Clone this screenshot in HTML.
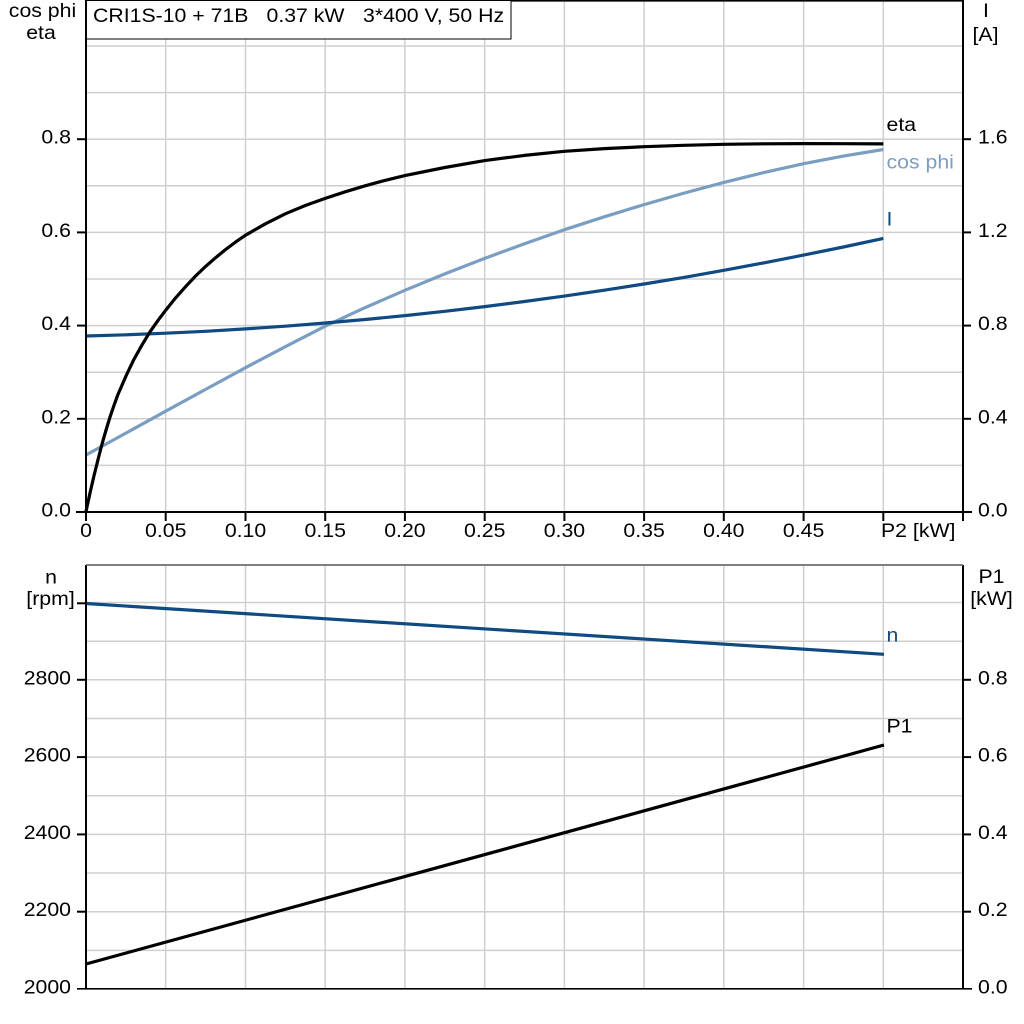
<!DOCTYPE html>
<html>
<head>
<meta charset="utf-8">
<style>
  html,body{margin:0;padding:0;background:#fff;}
  svg{display:block;}
  text{font-family:"Liberation Sans",Arial,sans-serif;font-size:19px;fill:#000;}
</style>
</head>
<body>
<svg width="1024" height="1024" viewBox="0 0 1024 1024" xmlns="http://www.w3.org/2000/svg">
  <rect x="0" y="0" width="1024" height="1024" fill="#fff"/>

  <!-- ============ TOP CHART ============ -->
  <g stroke="#cfcfcf" stroke-width="1.5" fill="none">
    <line x1="165.7" y1="0" x2="165.7" y2="512"/>
    <line x1="245.5" y1="0" x2="245.5" y2="512"/>
    <line x1="325.2" y1="0" x2="325.2" y2="512"/>
    <line x1="404.9" y1="0" x2="404.9" y2="512"/>
    <line x1="484.7" y1="0" x2="484.7" y2="512"/>
    <line x1="564.4" y1="0" x2="564.4" y2="512"/>
    <line x1="644.1" y1="0" x2="644.1" y2="512"/>
    <line x1="723.8" y1="0" x2="723.8" y2="512"/>
    <line x1="803.6" y1="0" x2="803.6" y2="512"/>
    <line x1="883.3" y1="0" x2="883.3" y2="512"/>
    <line x1="86" y1="465.4" x2="963" y2="465.4"/>
    <line x1="86" y1="418.8" x2="963" y2="418.8"/>
    <line x1="86" y1="372.2" x2="963" y2="372.2"/>
    <line x1="86" y1="325.6" x2="963" y2="325.6"/>
    <line x1="86" y1="279" x2="963" y2="279"/>
    <line x1="86" y1="232.4" x2="963" y2="232.4"/>
    <line x1="86" y1="185.8" x2="963" y2="185.8"/>
    <line x1="86" y1="139.2" x2="963" y2="139.2"/>
    <line x1="86" y1="92.6" x2="963" y2="92.6"/>
    <line x1="86" y1="46" x2="963" y2="46"/>
  </g>

  <!-- curves top -->
  <g fill="none" stroke-width="3.2" stroke-linejoin="round" stroke-linecap="butt">
    <polyline stroke="#7a9ec1" points="86,455 125.9,433.1 165.7,411.2 205.6,389.4 245.5,367.7 285.3,346.7 325.2,326.2 365.1,307.6 404.9,290.3 444.8,273.9 484.7,258.4 524.5,243.7 564.4,229.7 604.3,216.8 644.1,204.6 684,193.1 723.8,182.4 763.7,172.6 803.6,163.7 843.4,156.1 883.3,149.5"/>
    <polyline stroke="#0f4a82" points="86,336 125.9,334.8 165.7,333.2 205.6,331.3 245.5,328.9 285.3,326.2 325.2,323 365.1,319.5 404.9,315.6 444.8,311.3 484.7,306.6 524.5,301.5 564.4,296.1 604.3,290.2 644.1,284 684,277.4 723.8,270.3 763.7,262.9 803.6,255.1 843.4,247 883.3,238.4"/>
    <polyline stroke="#000" points="86,511.5 90,493 94,475.7 98,459.6 101.9,444.4 105.9,430.5 109.9,417.4 113.9,405.6 117.9,394.6 125.9,376.2 133.8,359.6 141.8,345.3 149.8,332.1 157.8,320.7 165.7,310.2 175.7,297.8 185.7,286.5 195.6,276 205.6,266.4 215.6,257.7 225.5,249.6 235.5,242.1 245.5,235.2 265.4,223.8 285.3,213.8 305.3,205.5 325.2,198.4 345.2,191.8 365.1,185.8 385,180.4 404.9,175.6 444.8,167.5 484.7,160.6 524.5,155.4 564.4,151.3 604.3,148.6 644.1,146.7 684,145.3 723.8,144.3 763.7,143.8 803.6,143.6 843.4,143.7 883.3,143.9"/>
  </g>

  <!-- axes top -->
  <g stroke="#000" stroke-width="2" fill="none">
    <line x1="86" y1="0" x2="86" y2="513"/>
    <line x1="963" y1="0" x2="963" y2="521"/>
    <line x1="76" y1="512" x2="972" y2="512"/>
    <line x1="86" y1="0.8" x2="963" y2="0.8" stroke-width="1.6"/>
    <line x1="77" y1="418.8" x2="86" y2="418.8"/>
    <line x1="77" y1="325.6" x2="86" y2="325.6"/>
    <line x1="77" y1="232.4" x2="86" y2="232.4"/>
    <line x1="77" y1="139.2" x2="86" y2="139.2"/>
    <line x1="963" y1="418.8" x2="971" y2="418.8"/>
    <line x1="963" y1="325.6" x2="971" y2="325.6"/>
    <line x1="963" y1="232.4" x2="971" y2="232.4"/>
    <line x1="963" y1="139.2" x2="971" y2="139.2"/>
    <line x1="86" y1="512" x2="86" y2="521"/>
    <line x1="165.7" y1="512" x2="165.7" y2="521"/>
    <line x1="245.5" y1="512" x2="245.5" y2="521"/>
    <line x1="325.2" y1="512" x2="325.2" y2="521"/>
    <line x1="404.9" y1="512" x2="404.9" y2="521"/>
    <line x1="484.7" y1="512" x2="484.7" y2="521"/>
    <line x1="564.4" y1="512" x2="564.4" y2="521"/>
    <line x1="644.1" y1="512" x2="644.1" y2="521"/>
    <line x1="723.8" y1="512" x2="723.8" y2="521"/>
    <line x1="803.6" y1="512" x2="803.6" y2="521"/>
    <line x1="883.3" y1="512" x2="883.3" y2="521"/>
  </g>

  <!-- title box -->
  <rect x="86.5" y="0.5" width="424.5" height="38.5" fill="#fff" stroke="#000" stroke-width="1"/>
  <text transform="translate(93 22) scale(1.12 1)">CRI1S-10 + 71B</text>
  <text transform="translate(266.5 22) scale(1.12 1)">0.37 kW</text>
  <text transform="translate(363 22) scale(1.12 1)">3*400 V, 50 Hz</text>

  <g text-anchor="end">
    <text transform="translate(71 516.5) scale(1.12 1)">0.0</text>
    <text transform="translate(71 423.3) scale(1.12 1)">0.2</text>
    <text transform="translate(71 330.1) scale(1.12 1)">0.4</text>
    <text transform="translate(71 236.9) scale(1.12 1)">0.6</text>
    <text transform="translate(71 143.7) scale(1.12 1)">0.8</text>
  </g>
  <g text-anchor="start">
    <text transform="translate(978 516.5) scale(1.12 1)">0.0</text>
    <text transform="translate(978 423.3) scale(1.12 1)">0.4</text>
    <text transform="translate(978 330.1) scale(1.12 1)">0.8</text>
    <text transform="translate(978 236.9) scale(1.12 1)">1.2</text>
    <text transform="translate(978 143.7) scale(1.12 1)">1.6</text>
  </g>
  <g text-anchor="middle">
    <text transform="translate(86 537) scale(1.12 1)">0</text>
    <text transform="translate(165.7 537) scale(1.12 1)">0.05</text>
    <text transform="translate(245.5 537) scale(1.12 1)">0.10</text>
    <text transform="translate(325.2 537) scale(1.12 1)">0.15</text>
    <text transform="translate(404.9 537) scale(1.12 1)">0.20</text>
    <text transform="translate(484.7 537) scale(1.12 1)">0.25</text>
    <text transform="translate(564.4 537) scale(1.12 1)">0.30</text>
    <text transform="translate(644.1 537) scale(1.12 1)">0.35</text>
    <text transform="translate(723.8 537) scale(1.12 1)">0.40</text>
    <text transform="translate(803.6 537) scale(1.12 1)">0.45</text>
    <text transform="translate(42.5 17) scale(1.12 1)">cos phi</text>
    <text transform="translate(41 39) scale(1.12 1)">eta</text>
    <text transform="translate(986 17) scale(1.12 1)">I</text>
    <text transform="translate(985.5 41) scale(1.12 1)">[A]</text>
  </g>
  <text transform="translate(881 537) scale(1.12 1)">P2 [kW]</text>

  <text transform="translate(886.5 131) scale(1.12 1)">eta</text>
  <text transform="translate(886.5 168.5) scale(1.12 1)" style="fill:#7a9ec1">cos phi</text>
  <text transform="translate(886.5 225.5) scale(1.12 1)" style="fill:#0f4a82">I</text>

  <!-- ============ BOTTOM CHART ============ -->
  <g stroke="#cfcfcf" stroke-width="1.5" fill="none">
    <line x1="165.7" y1="565" x2="165.7" y2="989"/>
    <line x1="245.5" y1="565" x2="245.5" y2="989"/>
    <line x1="325.2" y1="565" x2="325.2" y2="989"/>
    <line x1="404.9" y1="565" x2="404.9" y2="989"/>
    <line x1="484.7" y1="565" x2="484.7" y2="989"/>
    <line x1="564.4" y1="565" x2="564.4" y2="989"/>
    <line x1="644.1" y1="565" x2="644.1" y2="989"/>
    <line x1="723.8" y1="565" x2="723.8" y2="989"/>
    <line x1="803.6" y1="565" x2="803.6" y2="989"/>
    <line x1="883.3" y1="565" x2="883.3" y2="989"/>
    <line x1="86" y1="950.4" x2="963" y2="950.4"/>
    <line x1="86" y1="911.7" x2="963" y2="911.7"/>
    <line x1="86" y1="873" x2="963" y2="873"/>
    <line x1="86" y1="834.4" x2="963" y2="834.4"/>
    <line x1="86" y1="795.8" x2="963" y2="795.8"/>
    <line x1="86" y1="757.1" x2="963" y2="757.1"/>
    <line x1="86" y1="718.5" x2="963" y2="718.5"/>
    <line x1="86" y1="679.8" x2="963" y2="679.8"/>
    <line x1="86" y1="641.2" x2="963" y2="641.2"/>
    <line x1="86" y1="602.5" x2="963" y2="602.5"/>
  </g>

  <g fill="none" stroke-width="3.2">
    <line x1="86" y1="603.5" x2="884" y2="654.3" stroke="#0f4a82"/>
    <line x1="86" y1="964" x2="884" y2="745" stroke="#000"/>
  </g>

  <g stroke="#000" stroke-width="2" fill="none">
    <line x1="86" y1="565" x2="86" y2="989.5"/>
    <line x1="963" y1="565" x2="963" y2="989.5"/>
    <line x1="77" y1="988.8" x2="972" y2="988.8" stroke-width="1.6"/>
    <line x1="77" y1="911.7" x2="86" y2="911.7"/>
    <line x1="77" y1="834.4" x2="86" y2="834.4"/>
    <line x1="77" y1="757.1" x2="86" y2="757.1"/>
    <line x1="77" y1="679.8" x2="86" y2="679.8"/>
    <line x1="77" y1="603.3" x2="86" y2="603.3"/>
    <line x1="963" y1="911.7" x2="971" y2="911.7"/>
    <line x1="963" y1="834.4" x2="971" y2="834.4"/>
    <line x1="963" y1="757.1" x2="971" y2="757.1"/>
    <line x1="963" y1="679.8" x2="971" y2="679.8"/>
  </g>
  <line x1="86" y1="565" x2="963" y2="565" stroke="#6e6e6e" stroke-width="1.8"/>

  <g text-anchor="end">
    <text transform="translate(71 993.5) scale(1.12 1)">2000</text>
    <text transform="translate(71 916.2) scale(1.12 1)">2200</text>
    <text transform="translate(71 838.9) scale(1.12 1)">2400</text>
    <text transform="translate(71 761.6) scale(1.12 1)">2600</text>
    <text transform="translate(71 684.3) scale(1.12 1)">2800</text>
  </g>
  <g text-anchor="start">
    <text transform="translate(978 993.5) scale(1.12 1)">0.0</text>
    <text transform="translate(978 916.2) scale(1.12 1)">0.2</text>
    <text transform="translate(978 838.9) scale(1.12 1)">0.4</text>
    <text transform="translate(978 761.6) scale(1.12 1)">0.6</text>
    <text transform="translate(978 684.3) scale(1.12 1)">0.8</text>
  </g>
  <g text-anchor="middle">
    <text transform="translate(51 583.5) scale(1.12 1)">n</text>
    <text transform="translate(50.5 605) scale(1.12 1)">[rpm]</text>
    <text transform="translate(991.5 583) scale(1.12 1)">P1</text>
    <text transform="translate(991.5 605) scale(1.12 1)">[kW]</text>
  </g>

  <text transform="translate(886.5 641.5) scale(1.12 1)" style="fill:#0f4a82">n</text>
  <text transform="translate(886.5 732.5) scale(1.12 1)">P1</text>
</svg>
</body>
</html>
